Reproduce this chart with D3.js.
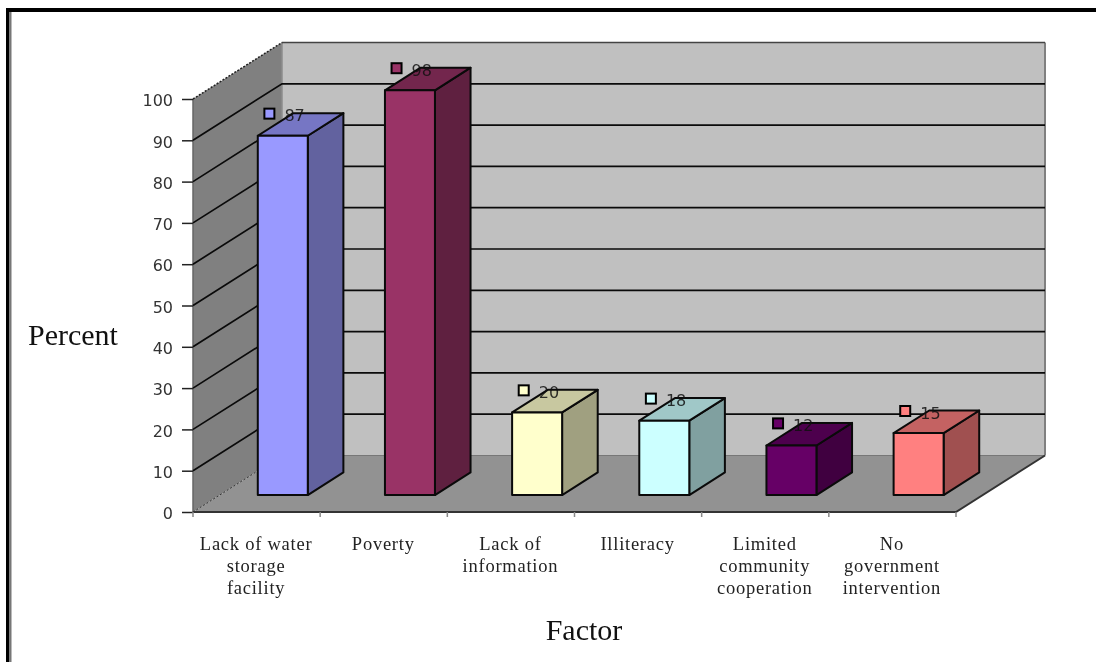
<!DOCTYPE html>
<html>
<head>
<meta charset="utf-8">
<script src="https://cdn.jsdelivr.net/npm/d3@7"></script>
<style>
html,body{margin:0;padding:0;background:#fff;overflow:hidden}
svg{display:block;filter:blur(0.35px)}
</style>
</head>
<body>
<svg id="chart" width="1096" height="662"></svg>
<script>
const categories = [
  ["Lack of water","storage","facility"],
  ["Poverty"],
  ["Lack of","information"],
  ["Illiteracy"],
  ["Limited","community","cooperation"],
  ["No","government","intervention"]
];
const values = [87, 98, 20, 18, 12, 15];
const yTicks = [0,10,20,30,40,50,60,70,80,90,100];
const frontColors = ["#9999ff","#993366","#ffffcc","#ccffff","#660066","#ff8080"];
const sideColors  = ["#62629f","#5f2040","#a0a080","#80a0a0","#400040","#a05050"];
const topColors   = ["#7676c4","#73264d","#c8c8a0","#a0c8c8","#4d004d","#c46262"];
const axisTitleX = "Factor";
const axisTitleY = "Percent";

const svg = d3.select("#chart");
const serif = "'Liberation Serif', serif";
const sans = "'DejaVu Sans', sans-serif";

// frame
svg.append("rect").attr("x",6).attr("y",8).attr("width",1090).attr("height",4).attr("fill","#000");
svg.append("rect").attr("x",6).attr("y",8).attr("width",3.5).attr("height",654).attr("fill","#000");
svg.append("rect").attr("x",10).attr("y",12).attr("width",1.5).attr("height",650).attr("fill","#777");

// scales: x along the front floor edge, y the value height, z the depth (0 front, 1 back)
const x = d3.scaleBand().domain(d3.range(categories.length)).range([193,956]).paddingInner(0).paddingOuter(0);
const y = d3.scaleLinear().domain([0,100]).range([512,99]);
const zx = d3.scaleLinear().domain([0,1]).range([0,89]);
const zy = d3.scaleLinear().domain([0,1]).range([0,-56.5]);
const P = (px,v,z) => [px+zx(z), y(v)+zy(z)];
const poly = pts => "M"+pts.map(p=>p.join(",")).join("L")+"Z";
const line = pts => "M"+pts.map(p=>p.join(",")).join("L");

// walls and floor
const g = svg.append("g");
g.append("path").attr("d",poly([P(193,0,0),P(193,100,0),P(193,100,1),P(193,0,1)])).attr("fill","#808080");
g.append("path").attr("d",poly([P(193,0,1),P(193,100,1),P(956,100,1),P(956,0,1)])).attr("fill","#c0c0c0");
g.append("path").attr("d",poly([P(193,0,0),P(193,0,1),P(956,0,1),P(956,0,0)])).attr("fill","#929292");

// wall edges
g.append("path").attr("d",line([P(956,0,1),P(956,100,1)])).attr("stroke","#808080").attr("stroke-width",2).attr("fill","none");
g.append("path").attr("d",line([P(193,0,1),P(193,100,1)])).attr("stroke","#8c8c8c").attr("stroke-width",1.5).attr("fill","none");
g.append("path").attr("d",line([P(193,0,0),P(193,100,0)])).attr("stroke","#666").attr("stroke-width",1.5).attr("fill","none");

// gridlines
yTicks.filter(t=>t>0).forEach(t=>{
  g.append("path").attr("d",line(t===100?[P(193,t,1),P(956,t,1)]:[P(193,t,0),P(193,t,1),P(956,t,1)]))
    .attr("fill","none").attr("stroke",t===100?"#444":"#0a0a0a").attr("stroke-width",1.7);
});
g.append("path").attr("d",line([P(193,100,0),P(193,100,1)]))
  .attr("stroke","#222").attr("stroke-width",1.5).attr("stroke-dasharray","2,1.5").attr("fill","none");
g.append("path").attr("d",line([P(193,0,0),P(193,0,1)]))
  .attr("stroke","#333").attr("stroke-dasharray","2,2").attr("fill","none");
g.append("path").attr("d",line([P(193,0,1),P(956,0,1)]))
  .attr("stroke","#777").attr("fill","none");
g.append("path").attr("d",line([P(193,0,0),P(956,0,0),P(956,0,1)]))
  .attr("stroke","#333").attr("stroke-width",2).attr("fill","none");

// y axis
const yAxis = d3.axisLeft(y).tickValues(yTicks).tickSize(11).tickPadding(9).tickFormat(d3.format("d"));
const ya = svg.append("g").attr("transform","translate(193,0)").call(yAxis);
ya.select(".domain").remove();
ya.selectAll("line").attr("stroke","#222").attr("stroke-width",1.5);
ya.selectAll("text").attr("font-family",sans).attr("font-size",16).attr("fill","#333").attr("dy","0.42em");

// x axis ticks
x.domain().concat([categories.length]).forEach(i=>{
  const tx = i<categories.length ? x(i) : 956;
  svg.append("line").attr("x1",tx).attr("x2",tx).attr("y1",512).attr("y2",517).attr("stroke","#888").attr("stroke-width",1.5);
});

// bars
const bw = 50, zF = 0.3, zB = 0.7;
const bars = svg.append("g").selectAll("g").data(values).join("g");
const bx0 = i => x(i)+x.bandwidth()/2-bw/2-0.5;
const stroke = {stroke:"#0a0a0a","stroke-width":2,"stroke-linejoin":"round"};
function applyStroke(s){Object.entries(stroke).forEach(([k,v])=>s.attr(k,v));return s;}
applyStroke(bars.append("path").attr("d",(v,i)=>{const a=bx0(i),b=a+bw;return poly([P(b,0,zF),P(b,v,zF),P(b,v,zB),P(b,0,zB)])}).attr("fill",(v,i)=>sideColors[i]));
applyStroke(bars.append("path").attr("d",(v,i)=>{const a=bx0(i),b=a+bw;return poly([P(a,v,zF),P(a,v,zB),P(b,v,zB),P(b,v,zF)])}).attr("fill",(v,i)=>topColors[i]));
applyStroke(bars.append("path").attr("d",(v,i)=>{const a=bx0(i),b=a+bw;return poly([P(a,0,zF),P(a,v,zF),P(b,v,zF),P(b,0,zF)])}).attr("fill",(v,i)=>frontColors[i]));

// data labels with legend keys
bars.append("rect").attr("width",10).attr("height",10)
  .attr("x",(v,i)=>P(bx0(i),v,zB)[0]-29)
  .attr("y",(v,i)=>P(bx0(i),v,zB)[1]-4.5)
  .attr("fill",(v,i)=>frontColors[i]).attr("stroke","#000").attr("stroke-width",2);
bars.append("text").text(v=>v)
  .attr("x",(v,i)=>P(bx0(i),v,zB)[0]-9)
  .attr("y",(v,i)=>P(bx0(i),v,zB)[1]+8)
  .attr("font-family",sans).attr("font-size",16).attr("fill","#111").attr("fill-opacity",0.85);

// category labels
const cat = svg.append("g").selectAll("text").data(categories).join("text")
  .attr("text-anchor","middle").attr("font-family",serif).attr("font-size",18.5)
  .attr("letter-spacing",0.75).attr("fill","#222");
cat.each(function(lines,i){
  d3.select(this).selectAll("tspan").data(lines).join("tspan")
    .attr("x",x(i)+x.bandwidth()/2-0.5)
    .attr("y",(d,j)=>550+j*22)
    .text(d=>d);
});

// axis titles
svg.append("text").text(axisTitleY).attr("x",28).attr("y",345).attr("font-family",serif).attr("font-size",30).attr("fill","#111");
svg.append("text").text(axisTitleX).attr("x",584).attr("y",640).attr("text-anchor","middle").attr("font-family",serif).attr("font-size",30).attr("fill","#111");
</script>
</body>
</html>
